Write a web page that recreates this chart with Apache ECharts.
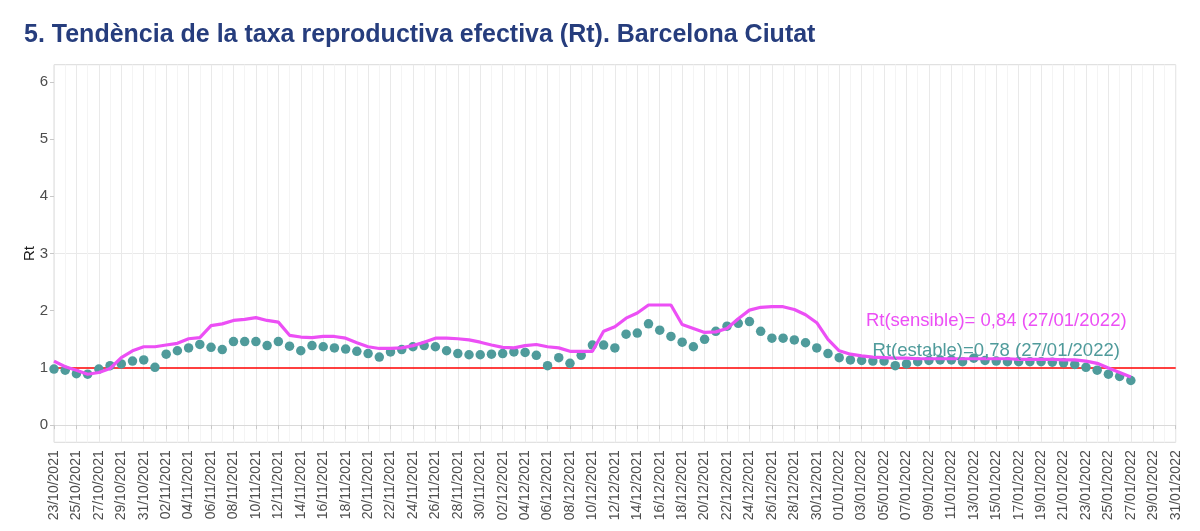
<!DOCTYPE html>
<html>
<head>
<meta charset="utf-8">
<script src="https://cdn.jsdelivr.net/npm/echarts@6/dist/echarts.min.js"></script>
<style>
html,body{margin:0;padding:0;background:#fff;}
#chart{width:1200px;height:531px;}
</style>
</head>
<body>
<div id="chart"></div>
<script>
// Categories: daily dates 23/10/2021 .. 31/01/2022
const startDate = new Date(Date.UTC(2021, 9, 23));
const categories = [];
for (let k = 0; k <= 100; k++) {
  const d = new Date(startDate.getTime() + k * 86400000);
  const dd = String(d.getUTCDate()).padStart(2, '0');
  const mm = String(d.getUTCMonth() + 1).padStart(2, '0');
  categories.push(dd + '/' + mm + '/' + d.getUTCFullYear());
}

// Rt(estable) – points, 23/10/2021 .. 27/01/2022
const rtEstable = [
  0.98, 0.96, 0.90, 0.89, 0.98, 1.04, 1.07, 1.12, 1.14, 1.01,
  1.24, 1.30, 1.35, 1.41, 1.36, 1.32, 1.46, 1.46, 1.46, 1.39,
  1.46, 1.38, 1.30, 1.39, 1.37, 1.35, 1.33, 1.29, 1.25, 1.19,
  1.28, 1.32, 1.37, 1.39, 1.37, 1.30, 1.25, 1.23, 1.23, 1.24,
  1.25, 1.28, 1.27, 1.22, 1.04, 1.18, 1.08, 1.22, 1.40, 1.40,
  1.35, 1.59, 1.61, 1.77, 1.66, 1.55, 1.45, 1.37, 1.50, 1.64,
  1.73, 1.78, 1.81, 1.64, 1.52, 1.52, 1.49, 1.44, 1.35, 1.25,
  1.18, 1.14, 1.13, 1.12, 1.12, 1.04, 1.07, 1.11, 1.13, 1.14,
  1.14, 1.11, 1.17, 1.13, 1.12, 1.11, 1.11, 1.11, 1.11, 1.10,
  1.09, 1.06, 1.01, 0.96, 0.89, 0.85, 0.78
];

// Rt(sensible) – line, 23/10/2021 .. 27/01/2022
const rtSensible = [
  1.12, 1.02, 0.96, 0.89, 0.92, 0.99, 1.18, 1.30, 1.37, 1.37,
  1.40, 1.43, 1.51, 1.53, 1.74, 1.77, 1.83, 1.85, 1.88, 1.83,
  1.80, 1.57, 1.54, 1.53, 1.55, 1.55, 1.52, 1.44, 1.37, 1.34,
  1.34, 1.35, 1.39, 1.45, 1.52, 1.52, 1.51, 1.49, 1.45, 1.40,
  1.36, 1.35, 1.39, 1.41, 1.37, 1.35, 1.29, 1.29, 1.29, 1.64,
  1.72, 1.87, 1.96, 2.10, 2.10, 2.10, 1.76, 1.69, 1.62, 1.63,
  1.69, 1.86, 2.01, 2.06, 2.07, 2.07, 2.02, 1.93, 1.79, 1.50,
  1.30, 1.24, 1.21, 1.19, 1.18, 1.17, 1.17, 1.16, 1.16, 1.16,
  1.16, 1.16, 1.16, 1.16, 1.16, 1.16, 1.15, 1.15, 1.15, 1.15,
  1.14, 1.14, 1.12, 1.08, 1.00, 0.92, 0.84
];

const yTickValues = [0, 1, 2, 3, 4, 5, 6];
const thresholdValue = 1;
const titleText = '5. Tendència de la taxa reproductiva efectiva (Rt). Barcelona Ciutat';
const labelSensible = 'Rt(sensible)= 0,84 (27/01/2022)';
const labelEstable = 'Rt(estable)=0,78 (27/01/2022)';
const labelSensiblePos = [categories[84], 1.83];
const labelEstablePos = [categories[84], 1.29];

const FONT = '"Liberation Sans", Arial, Helvetica, sans-serif';
const TEAL = '#4f9b9b';
const MAGENTA = '#ec4ff5';

const chart = echarts.init(document.getElementById('chart'), null, {renderer: 'canvas'});

chart.setOption({
  backgroundColor: '#ffffff',
  animation: false,
  textStyle: {fontFamily: FONT},
  title: {
    text: titleText,
    left: 19,
    top: 18,
    textStyle: {fontFamily: FONT, fontSize: 25, fontWeight: 'bold', color: '#263d7d'}
  },
  grid: {
    left: 54, right: 24.3, top: 64.7, bottom: 88.7,
    show: true, borderColor: '#dadada', borderWidth: 1, backgroundColor: '#ffffff'
  },
  xAxis: {
    type: 'category',
    data: categories,
    boundaryGap: false,
    axisLine: {show: true, lineStyle: {color: '#dadada', width: 1}},
    axisTick: {show: true, interval: 1, length: 4, lineStyle: {color: '#c8c8c8'}},
    axisLabel: {interval: 1, rotate: 90, fontSize: 14, color: '#4d4d4d', margin: 8, fontFamily: FONT},
    splitLine: {show: true, interval: 0, lineStyle: {color: ['#e9e9e9', '#f4f4f4'], width: 1}}
  },
  yAxis: {
    type: 'value',
    min: -0.3,
    max: 6.3,
    interval: 0.1,
    name: 'Rt',
    nameLocation: 'middle',
    nameGap: 17,
    nameRotate: 90,
    nameMoveOverlap: false,
    nameTextStyle: {fontSize: 15, color: '#1a1a1a', fontFamily: FONT},
    axisLine: {show: false},
    axisTick: {show: true, length: 4, lineStyle: {color: '#c8c8c8'}, customValues: yTickValues},
    axisLabel: {fontSize: 15, color: '#4d4d4d', margin: 6, fontFamily: FONT, customValues: yTickValues,
      formatter: function (v) { return String(Math.round(v)); }},
    splitLine: {show: true, lineStyle: {
      color: ['transparent', 'transparent', 'transparent', '#e9e9e9', 'transparent',
              'transparent', 'transparent', 'transparent', '#f4f4f4', 'transparent'], width: 1}}
  },
  series: [
    {
      name: 'Rt(estable)',
      type: 'scatter',
      data: rtEstable,
      symbol: 'circle',
      symbolSize: 9.5,
      itemStyle: {color: TEAL, opacity: 1},
      z: 3,
      markLine: {
        silent: true,
        symbol: ['none', 'none'],
        label: {show: false},
        lineStyle: {color: '#ff0000', width: 1.5, type: 'solid'},
        data: [{yAxis: thresholdValue}],
        z: 2
      },
      markPoint: {
        silent: true,
        symbol: 'rect',
        symbolSize: 1,
        itemStyle: {color: 'transparent'},
        label: {show: true, position: 'inside', formatter: labelEstable, color: TEAL, fontSize: 18.5, fontFamily: FONT},
        data: [{coord: labelEstablePos}],
        z: 10
      }
    },
    {
      name: 'Rt(sensible)',
      type: 'line',
      data: rtSensible,
      showSymbol: false,
      symbol: 'none',
      lineStyle: {color: MAGENTA, width: 3.2},
      itemStyle: {color: MAGENTA},
      z: 4,
      markPoint: {
        silent: true,
        symbol: 'rect',
        symbolSize: 1,
        itemStyle: {color: 'transparent'},
        label: {show: true, position: 'inside', formatter: labelSensible, color: MAGENTA, fontSize: 18.5, fontFamily: FONT},
        data: [{coord: labelSensiblePos}],
        z: 10
      }
    }
  ]
});
</script>
</body>
</html>
